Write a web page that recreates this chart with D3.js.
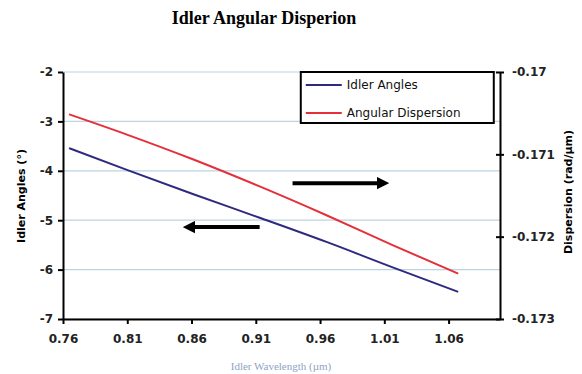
<!DOCTYPE html>
<html>
<head>
<meta charset="utf-8">
<script src="https://cdn.jsdelivr.net/npm/d3@7"></script>
<style>
  body { margin: 0; background: #fff; }
  svg { display: block; }
</style>
</head>
<body>
<div id="chart"></div>
<script>
// data
const wavelengths = [0.7647, 0.8097, 0.861, 0.913, 0.965, 1.016, 1.0675];
const idlerAngles = [-3.54, -3.98, -4.47, -4.95, -5.44, -5.95, -6.45];
const angularDispersion = [-0.170514, -0.17076, -0.17106, -0.17139, -0.17174, -0.1721, -0.172449];
const xTicks = [0.76, 0.81, 0.86, 0.91, 0.96, 1.01, 1.06];
const leftTicks = [-2, -3, -4, -5, -6, -7];
const rightTicks = [-0.17, -0.171, -0.172, -0.173];
const seriesNames = ['Idler Angles', 'Angular Dispersion'];
// arrows: [x0, x1, yLeft]
const arrowRight = [0.9386, 1.006, -4.25];
const arrowLeft = [0.913, 0.861, -5.14];

const width = 582, height = 374;
const margin = { top: 72, right: 82, bottom: 55, left: 63 };
const innerW = width - margin.left - margin.right;
const innerH = height - margin.top - margin.bottom;

const svg = d3.select('#chart').append('svg')
  .attr('width', width)
  .attr('height', height);

const defs = svg.append('defs');
defs.append('marker')
  .attr('id', 'head')
  .attr('viewBox', '0 0 10 10')
  .attr('refX', 2).attr('refY', 5)
  .attr('markerWidth', 3.2).attr('markerHeight', 3.2)
  .attr('orient', 'auto')
  .append('path')
  .attr('d', 'M0,0 L10,5 L0,10 Z')
  .attr('fill', '#000');

const x = d3.scaleLinear().domain([0.76, 1.1]).range([0, innerW]);
const yL = d3.scaleLinear().domain([-7, -2]).range([innerH, 0]);
const yR = d3.scaleLinear().domain([-0.173, -0.17]).range([innerH, 0]);

const g = svg.append('g').attr('transform', `translate(${margin.left},${margin.top})`);

// gridlines
g.selectAll('.grid')
  .data(leftTicks)
  .join('line')
  .attr('x1', 0).attr('x2', innerW)
  .attr('y1', d => yL(d)).attr('y2', d => yL(d))
  .attr('stroke', '#bcd3e2')
  .attr('stroke-width', 1.2);

// lines
const lineL = d3.line().curve(d3.curveMonotoneX).x((d, i) => x(wavelengths[i])).y(d => yL(d));
const lineR = d3.line().curve(d3.curveMonotoneX).x((d, i) => x(wavelengths[i])).y(d => yR(d));

g.append('path')
  .datum(idlerAngles)
  .attr('d', lineL)
  .attr('fill', 'none')
  .attr('stroke', '#2f2a7e')
  .attr('stroke-width', 2);

g.append('path')
  .datum(angularDispersion)
  .attr('d', lineR)
  .attr('fill', 'none')
  .attr('stroke', '#e5303a')
  .attr('stroke-width', 2);

// axes
const tickFont = '600 12px "DejaVu Sans", sans-serif';

const xAxis = g.append('g')
  .attr('transform', `translate(0,${innerH})`)
  .call(d3.axisBottom(x).tickValues(xTicks).tickFormat(d3.format('.2f')).tickSize(5).tickSizeOuter(0));

const leftAxis = g.append('g')
  .call(d3.axisLeft(yL).tickValues(leftTicks).tickFormat(d => String(d)).tickSize(5).tickSizeOuter(0));

const rightAxis = g.append('g')
  .attr('transform', `translate(${innerW},0)`)
  .call(d3.axisRight(yR).tickValues(rightTicks).tickFormat(d => String(d)).tickSize(4).tickSizeOuter(0));
rightAxis.selectAll('.tick line').attr('x1', -4);

[xAxis, leftAxis, rightAxis].forEach(a => {
  a.select('.domain').attr('stroke', '#000').attr('stroke-width', 2);
  a.selectAll('.tick line').attr('stroke', '#000').attr('stroke-width', 2);
  a.selectAll('text').style('font', tickFont).attr('fill', '#222');
});
xAxis.selectAll('text').attr('dy', '1.35em');
leftAxis.selectAll('text').attr('x', -10);
rightAxis.selectAll('text').attr('x', 12);

// arrows
[arrowRight, arrowLeft].forEach(a => {
  g.append('line')
    .attr('x1', x(a[0])).attr('x2', x(a[1]))
    .attr('y1', yL(a[2])).attr('y2', yL(a[2]))
    .attr('stroke', '#000')
    .attr('stroke-width', 4)
    .attr('marker-end', 'url(#head)');
});

// legend
const legend = g.append('g').attr('transform', `translate(${x(0.945)},0)`);
legend.append('rect')
  .attr('width', 193).attr('height', 51)
  .attr('fill', '#fff')
  .attr('stroke', '#000')
  .attr('stroke-width', 2);
const legendColors = ['#2f2a7e', '#e5303a'];
seriesNames.forEach((name, i) => {
  const yy = 13 + i * 28;
  legend.append('line')
    .attr('x1', 5).attr('x2', 41)
    .attr('y1', yy).attr('y2', yy)
    .attr('stroke', legendColors[i])
    .attr('stroke-width', 2);
  legend.append('text')
    .attr('x', 46).attr('y', yy + 4)
    .style('font', '12px "DejaVu Sans", sans-serif')
    .attr('fill', '#111')
    .text(name);
});

// title
svg.append('text')
  .attr('x', 264).attr('y', 24)
  .attr('text-anchor', 'middle')
  .style('font', 'bold 18px "Liberation Serif", serif')
  .text('Idler Angular Disperion');

// axis titles
svg.append('text')
  .attr('transform', `translate(25,${196}) rotate(-90)`)
  .attr('text-anchor', 'middle')
  .style('font', 'bold 11px "DejaVu Sans", sans-serif')
  .text('Idler Angles (°)');

svg.append('text')
  .attr('transform', `translate(572,${192}) rotate(-90)`)
  .attr('text-anchor', 'middle')
  .style('font', 'bold 11px "DejaVu Sans", sans-serif')
  .text('Dispersion (rad/µm)');

svg.append('text')
  .attr('x', 281).attr('y', 370)
  .attr('text-anchor', 'middle')
  .style('font', '11px "Liberation Serif", serif')
  .attr('fill', '#8fa3c4')
  .text('Idler Wavelength (µm)');
</script>
</body>
</html>
